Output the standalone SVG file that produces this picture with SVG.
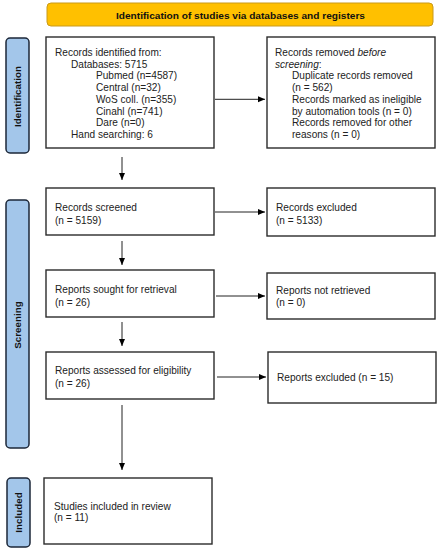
<svg xmlns="http://www.w3.org/2000/svg" width="440" height="550" viewBox="0 0 440 550">
<defs>
<marker id="ah" markerWidth="8" markerHeight="8" refX="7" refY="4" orient="auto" markerUnits="userSpaceOnUse">
<path d="M0,1 L7,4 L0,7 Z" fill="#000"/>
</marker>
<style>
.box{fill:#fff;stroke:#2b2b2b;stroke-width:1.4}
.side{fill:#a3c6ea;stroke:#1c2738;stroke-width:1.5}
.hdr{fill:#ffc000;stroke:#c99a1a;stroke-width:1}
.t{font-family:"Liberation Sans",Arial,sans-serif;font-size:10.1px;fill:#222}
.b{font-family:"Liberation Sans",Arial,sans-serif;font-size:9.8px;font-weight:bold;fill:#111}
.c line{stroke:#222;stroke-width:1}
</style>
</defs>
<rect width="440" height="550" fill="#fff"/>
<g id="header">
<rect class="hdr" x="47" y="3" width="386" height="23" rx="4"/>
<text class="b" x="240.5" y="19" text-anchor="middle" textLength="249" lengthAdjust="spacingAndGlyphs">Identification of studies via databases and registers</text>
</g>
<g id="side-identification">
<rect class="side" x="6" y="38" width="23" height="115" rx="4"/>
<text class="b" transform="translate(21,96.5) rotate(-90)" text-anchor="middle">Identification</text>
</g>
<g id="side-screening">
<rect class="side" x="6" y="200" width="23" height="248" rx="4"/>
<text class="b" transform="translate(21,325) rotate(-90)" text-anchor="middle">Screening</text>
</g>
<g id="side-included">
<rect class="side" x="7" y="478" width="23" height="69" rx="4"/>
<text class="b" transform="translate(22,512.5) rotate(-90)" text-anchor="middle">Included</text>
</g>
<g id="identified">
<rect class="box" x="46" y="37" width="168" height="111"/>
<text class="t"><tspan x="55" y="56">Records identified from:</tspan><tspan x="71" y="67.7">Databases: 5715</tspan><tspan x="96" y="79.4">Pubmed (n=4587)</tspan><tspan x="96" y="91.1">Central (n=32)</tspan><tspan x="96" y="102.8">WoS coll. (n=355)</tspan><tspan x="96" y="114.5">Cinahl (n=741)</tspan><tspan x="96" y="126.2">Dare (n=0)</tspan><tspan x="71" y="137.9">Hand searching: 6</tspan></text>
</g>
<g id="removed">
<rect class="box" x="267" y="37" width="168" height="111"/>
<text class="t"><tspan x="275" y="56">Records removed <tspan font-style="italic">before</tspan></tspan><tspan x="275" y="67.7" font-style="italic">screening</tspan><tspan>:</tspan><tspan x="292" y="79.4">Duplicate records removed</tspan><tspan x="292" y="91.1">(n = 562)</tspan><tspan x="292" y="102.8">Records marked as ineligible</tspan><tspan x="292" y="114.5">by automation tools (n = 0)</tspan><tspan x="292" y="126.2">Records removed for other</tspan><tspan x="292" y="137.9">reasons (n = 0)</tspan></text>
</g>
<g id="screened">
<rect class="box" x="46" y="188" width="168" height="47"/>
<text class="t"><tspan x="55" y="211">Records screened</tspan><tspan x="55" y="223.5">(n = 5159)</tspan></text>
</g>
<g id="excluded">
<rect class="box" x="267" y="188" width="168" height="48"/>
<text class="t"><tspan x="276" y="211">Records excluded</tspan><tspan x="276" y="223.5">(n = 5133)</tspan></text>
</g>
<g id="sought">
<rect class="box" x="46" y="270" width="168" height="47"/>
<text class="t"><tspan x="55" y="292.5">Reports sought for retrieval</tspan><tspan x="55" y="305.5">(n = 26)</tspan></text>
</g>
<g id="notretrieved">
<rect class="box" x="267" y="273" width="168" height="46"/>
<text class="t"><tspan x="276" y="293.5">Reports not retrieved</tspan><tspan x="276" y="306">(n = 0)</tspan></text>
</g>
<g id="assessed">
<rect class="box" x="46" y="352" width="168" height="47"/>
<text class="t"><tspan x="55" y="373.5">Reports assessed for eligibility</tspan><tspan x="55" y="386.5">(n = 26)</tspan></text>
</g>
<g id="reportsexcluded">
<rect class="box" x="268" y="352" width="168" height="51"/>
<text class="t"><tspan x="277" y="380.5">Reports excluded (n = 15)</tspan></text>
</g>
<g id="included">
<rect class="box" x="44" y="478" width="168" height="66"/>
<text class="t"><tspan x="54" y="509.5">Studies included in review</tspan><tspan x="54" y="521">(n = 11)</tspan></text>
</g>
<g id="connectors" class="c">
<line x1="215" y1="99.3" x2="265" y2="99.3" marker-end="url(#ah)"/>
<line x1="122" y1="157" x2="122" y2="180" marker-end="url(#ah)"/>
<line x1="215" y1="212" x2="265" y2="212" marker-end="url(#ah)"/>
<line x1="122" y1="241" x2="122" y2="265" marker-end="url(#ah)"/>
<line x1="216" y1="296" x2="265" y2="296" marker-end="url(#ah)"/>
<line x1="122" y1="322" x2="122" y2="346" marker-end="url(#ah)"/>
<line x1="217" y1="377" x2="266" y2="377" marker-end="url(#ah)"/>
<line x1="122" y1="405" x2="122" y2="470" marker-end="url(#ah)"/>
</g>
</svg>
